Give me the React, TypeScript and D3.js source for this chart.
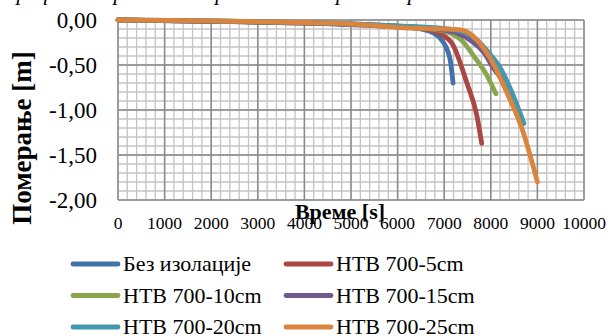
import React from "react";
import * as d3 from "d3";

// series names as shown in the legend
const seriesNames = [
  "Без изолације",
  "НТВ 700-5cm",
  "НТВ 700-10cm",
  "НТВ 700-15cm",
  "НТВ 700-20cm",
  "НТВ 700-25cm",
];
const seriesColors = ["#4372AA", "#AA4643", "#89A54E", "#71588F", "#4198AF", "#DB843D"];

// time [s] / displacement [m]
const timeNoIns = [0, 2000, 4000, 5000, 6000, 6500, 6750, 6910, 7120, 7190];
const dispNoIns = [0, -0.015, -0.035, -0.05, -0.075, -0.1, -0.14, -0.2, -0.42, -0.7];
const time5 = [0, 2000, 4000, 5000, 6000, 6600, 6910, 7190, 7480, 7700, 7805];
const disp5 = [0, -0.015, -0.035, -0.05, -0.075, -0.1, -0.15, -0.28, -0.69, -1.06, -1.37];
const time10 = [0, 2000, 4000, 5000, 6000, 6700, 7100, 7400, 7620, 7910, 8110];
const disp10 = [0, -0.012, -0.03, -0.045, -0.07, -0.1, -0.14, -0.24, -0.39, -0.61, -0.82];
const time15 = [0, 2000, 4000, 5000, 6000, 6800, 7300, 7600, 7850, 8050, 8250, 8430, 8600];
const disp15 = [0, -0.012, -0.03, -0.045, -0.068, -0.1, -0.15, -0.24, -0.36, -0.53, -0.67, -0.85, -1.05];
const time20 = [0, 2000, 4000, 5000, 6000, 7000, 7400, 7700, 7950, 8200, 8450, 8710];
const disp20 = [0, -0.01, -0.028, -0.042, -0.065, -0.095, -0.13, -0.22, -0.36, -0.53, -0.8, -1.15];
const time25 = [0, 2000, 4000, 5000, 6050, 7000, 7350, 7550, 7700, 7980, 8340, 8690, 9000];
const disp25 = [0, -0.01, -0.028, -0.042, -0.085, -0.1, -0.11, -0.15, -0.22, -0.42, -0.8, -1.24, -1.8];

const seriesTimes = [timeNoIns, time5, time10, time15, time20, time25];
const seriesDisps = [dispNoIns, disp5, disp10, disp15, disp20, disp25];

const xTicks = [0, 1000, 2000, 3000, 4000, 5000, 6000, 7000, 8000, 9000, 10000];
const yTicks = [0, -0.5, -1, -1.5, -2];

const FONT = "'Liberation Serif'";

export default function App() {
  const width = 608;
  const height = 336;
  const margin = { top: 20, right: 24, bottom: 136, left: 118 };
  const innerW = width - margin.left - margin.right;
  const innerH = height - margin.top - margin.bottom;

  const x = d3.scaleLinear().domain([0, 10000]).range([0, innerW]);
  const y = d3.scaleLinear().domain([-2, 0]).range([innerH, 0]);

  const minorX = d3.range(0, 10001, 200);
  const minorY = d3.range(-2, 0.001, 0.1);

  const line = d3
    .line<[number, number]>()
    .x((d) => x(d[0]))
    .y((d) => y(d[1]))
    .curve(d3.curveMonotoneX);

  return (
    <svg
      width={width}
      height={height}
      style={{ position: "absolute", left: 0, top: 0, background: "#fff", fontFamily: FONT }}
    >
      {/* cut-off caption above the chart */}
      <text x={8} y={0} fontSize={22} fontStyle="italic" fill="#000">
        графички приказ померања бочне греде за различите дебљине изолације
      </text>

      <g transform={`translate(${margin.left},${margin.top})`}>
        {/* minor grid */}
        {minorX.map((d) => (
          <line key={"mx" + d} x1={x(d)} x2={x(d)} y1={0} y2={innerH} stroke="#c4c4c4" strokeWidth={1.3} />
        ))}
        {minorY.map((d, i) => (
          <line key={"my" + i} x1={0} x2={innerW} y1={y(d)} y2={y(d)} stroke="#c4c4c4" strokeWidth={1.3} />
        ))}
        {/* major grid */}
        {xTicks.map((d) => (
          <line key={"gx" + d} x1={x(d)} x2={x(d)} y1={0} y2={innerH} stroke="#8a8a8a" strokeWidth={1.5} />
        ))}
        {yTicks.map((d) => (
          <line key={"gy" + d} x1={0} x2={innerW} y1={y(d)} y2={y(d)} stroke="#8a8a8a" strokeWidth={1.5} />
        ))}

        {/* y tick labels */}
        {yTicks.map((d) => (
          <text key={"ty" + d} x={-21} y={y(d)} dy="0.35em" textAnchor="end" fontSize={23} fill="#000">
            {d.toFixed(2).replace(".", ",")}
          </text>
        ))}
        {/* x tick labels */}
        {xTicks.map((d) => (
          <text key={"tx" + d} x={x(d)} y={innerH + 29} textAnchor="middle" fontSize={17.5} fill="#000">
            {String(d)}
          </text>
        ))}

        {/* lines */}
        {seriesNames.map((name, i) => {
          const pts: [number, number][] = seriesTimes[i].map((t, j) => [t, seriesDisps[i][j]]);
          return (
            <path
              key={name}
              d={line(pts) || ""}
              fill="none"
              stroke={seriesColors[i]}
              strokeWidth={4.8}
              strokeLinecap="round"
              strokeLinejoin="round"
            />
          );
        })}
      </g>

      {/* axis titles */}
      <text
        transform={`translate(31,${margin.top + 118}) rotate(-90)`}
        textAnchor="middle"
        fontWeight="bold"
        fontSize={27}
        fill="#000"
      >
        Померање  [m]
      </text>
      <text x={340} y={219} textAnchor="middle" fontWeight="bold" fontSize={22} fill="#000">
        Време [s]
      </text>

      {/* legend */}
      {seriesNames.map((name, i) => {
        const col = i % 2;
        const row = Math.floor(i / 2);
        const lx = col === 0 ? 73 : 286;
        const ly = 264 + row * 31.5;
        return (
          <g key={"lg" + i}>
            <line
              x1={lx}
              x2={lx + 45}
              y1={ly}
              y2={ly}
              stroke={seriesColors[i]}
              strokeWidth={4.8}
              strokeLinecap="round"
            />
            <text x={lx + 50} y={ly + 7} fontSize={22} fill="#000">
              {name}
            </text>
          </g>
        );
      })}
    </svg>
  );
}
